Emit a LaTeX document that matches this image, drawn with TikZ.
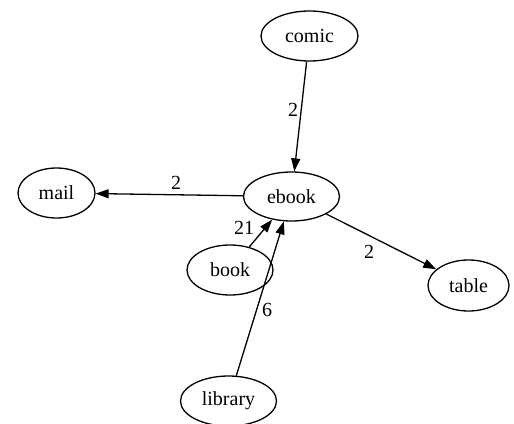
\documentclass[tikz,border=0pt]{standalone}
\usepackage{fontspec}
\setmainfont{Liberation Serif}
\usetikzlibrary{shapes.geometric,arrows.meta}
\begin{document}
\begin{tikzpicture}[x=1pt,y=-1pt,
  nd/.style={draw, ellipse, line width=1.3pt, inner sep=0pt, font=\fontsize{20}{24}\selectfont},
  edge/.style={line width=1.3pt, -{Triangle[length=13pt,width=9pt]}},
  lbl/.style={font=\fontsize{20}{24}\selectfont, inner sep=0pt}]
\useasboundingbox[fill=white] (0,0) rectangle (514,423);
\node[nd, minimum width=97pt, minimum height=50pt] (comic) at (309.5,36) {comic};
\node[nd, minimum width=96pt, minimum height=49pt] (ebook) at (291.5,196.5) {ebook};
\node[nd, minimum width=77pt, minimum height=50pt] (mail) at (56.5,193) {mail};
\node[nd, minimum width=86pt, minimum height=50pt] (book) at (230,270) {book};
\node[nd, minimum width=81pt, minimum height=51pt] (table) at (468.5,285.5) {table};
\node[nd, minimum width=96pt, minimum height=50pt] (library) at (228.5,401) {library};
\draw[edge] (comic) -- (ebook) node[lbl] at (293,110) {2};
\draw[edge] (ebook) -- (mail) node[lbl] at (176,183) {2};
\draw[edge] (ebook) -- (table) node[lbl] at (369,252) {2};
\draw[edge] (book) -- (ebook) node[lbl] at (244,228) {21};
\draw[edge] (library) -- (ebook) node[lbl] at (267,310) {6};
\end{tikzpicture}
\end{document}
